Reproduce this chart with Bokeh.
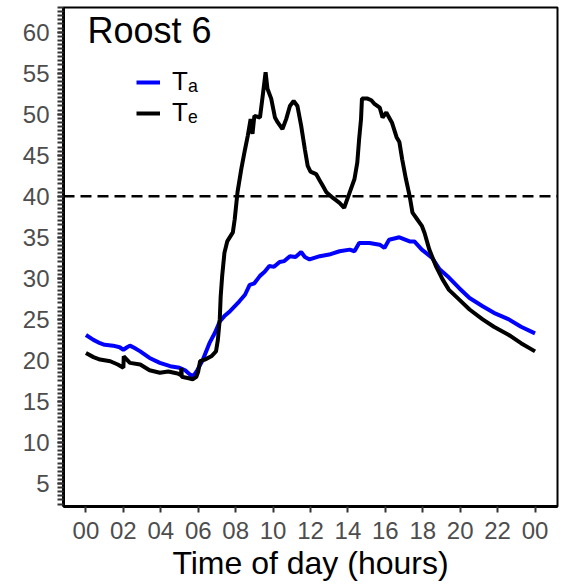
from bokeh.plotting import figure
from bokeh.models import (Span, Legend, LegendItem, Label, FixedTicker,
                          SingleIntervalTicker, Range1d)
from bokeh.embed import file_html
from bokeh.resources import INLINE

# ---- data ----
ta_hours = [0.0, 0.4, 0.75, 1.0, 1.45, 1.8, 2.0, 2.2, 2.35, 2.6, 2.9, 3.4, 3.95,
            4.5, 5.0, 5.3, 5.45, 5.65, 5.8, 5.95, 6.25, 6.6, 6.9, 7.15, 7.4, 7.7,
            8.2, 8.5, 8.75, 9.0, 9.3, 9.55, 9.8, 10.05, 10.35, 10.6, 10.9, 11.2,
            11.5, 11.7, 11.95, 12.2, 12.5, 13.0, 13.55, 14.1, 14.35, 14.6, 15.15,
            15.7, 15.95, 16.2, 16.75, 17.3, 17.55, 17.95, 18.5, 18.9, 19.4, 19.95,
            20.5, 21.2, 21.8, 22.6, 23.25, 24.0]
ta_values = [23.1, 22.5, 22.1, 21.9, 21.8, 21.6, 21.3, 21.6, 21.8, 21.5, 21.1, 20.3,
             19.7, 19.3, 19.1, 18.8, 18.5, 18.1, 18.3, 18.8, 20.1, 22.1, 23.4, 24.75,
             25.4, 26.0, 27.2, 28.0, 29.2, 29.4, 30.3, 30.8, 31.5, 31.4, 32.0, 32.1,
             32.7, 32.6, 33.2, 32.6, 32.3, 32.5, 32.7, 32.9, 33.3, 33.5, 33.3, 34.3,
             34.3, 34.1, 33.7, 34.7, 35.0, 34.5, 34.5, 33.5, 32.5, 31.1, 30.1, 28.8,
             27.6, 26.6, 25.8, 25.0, 24.1, 23.3]

te_hours = [0.0, 0.4, 0.75, 1.3, 1.7, 2.0, 2.02, 2.35, 2.9, 3.4, 3.95, 4.4, 4.9,
            5.08, 5.1, 5.12, 5.55, 5.7, 5.9, 6.0, 6.1, 6.35, 6.7, 6.95, 7.05, 7.15,
            7.2, 7.28, 7.4, 7.55, 7.85, 7.95, 8.1, 8.3, 8.5, 8.65, 8.8, 8.9, 9.0,
            9.3, 9.45, 9.6, 9.7, 9.9, 10.1, 10.25, 10.5, 10.7, 10.9, 11.1, 11.3,
            11.5, 11.7, 11.85, 12.0, 12.3, 12.5, 12.65, 12.85, 13.2, 13.55, 13.8,
            14.1, 14.35, 14.5, 14.6, 14.7, 14.75, 15.05, 15.25, 15.4, 15.7, 15.85,
            16.05, 16.35, 16.6, 16.75, 16.9, 17.1, 17.3, 17.45, 17.7, 17.95, 18.1,
            18.35, 18.7, 19.05, 19.4, 19.95, 20.5, 21.2, 21.8, 22.6, 23.25, 24.0]
te_values = [20.9, 20.4, 20.1, 19.9, 19.5, 19.1, 20.5, 19.7, 19.5, 18.8, 18.5, 18.65,
             18.4, 18.2, 19.1, 18.0, 17.8, 17.7, 18.0, 18.65, 19.9, 20.1, 20.5, 21.1,
             22.5, 25.0, 27.8, 30.3, 33.1, 34.5, 35.6, 37.2, 40.5, 43.3, 45.7, 47.4,
             49.4, 47.6, 49.8, 49.6, 52.3, 55.1, 53.1, 51.9, 49.6, 49.0, 48.2, 49.4,
             51.0, 51.6, 51.0, 48.6, 45.7, 43.7, 43.0, 42.7, 41.9, 41.3, 40.5, 39.8,
             39.2, 38.6, 40.5, 42.1, 44.1, 47.0, 49.4, 51.9, 51.9, 51.7, 51.3, 50.8,
             49.6, 50.2, 49.0, 47.2, 46.6, 44.5, 42.1, 40.0, 38.0, 37.2, 36.4, 35.5,
             33.5, 31.5, 29.9, 28.6, 27.4, 26.2, 25.0, 24.1, 23.1, 22.1, 21.1]

threshold = 40
x_ticks = [0, 2, 4, 6, 8, 10, 12, 14, 16, 18, 20, 22, 24]
x_tick_labels = ["00", "02", "04", "06", "08", "10", "12", "14", "16", "18",
                 "20", "22", "00"]
title_text = "Roost 6"
x_title = "Time of day (hours)"
series_labels = ["T\u2090", "T\u2091"]

FONT = "Liberation Sans"

p = figure(width=567, height=585, output_backend="svg", toolbar_location=None,
           x_range=Range1d(-1.2, 25.2), y_range=Range1d(2.2, 63.0),
           min_border_left=63, min_border_right=10, min_border_top=7,
           min_border_bottom=79)
p.background_fill_color = "white"
p.border_fill_color = "white"
p.xgrid.visible = False
p.ygrid.visible = False
p.outline_line_color = "black"
p.outline_line_width = 2

# x axis
p.xaxis.ticker = FixedTicker(ticks=x_ticks)
p.xaxis.major_label_overrides = {t: l for t, l in zip(x_ticks, x_tick_labels)}
p.xaxis.axis_label = x_title
p.xaxis.axis_label_text_font = FONT
p.xaxis.axis_label_text_font_size = "32px"
p.xaxis.axis_label_text_font_style = "normal"
p.xaxis.axis_label_text_color = "black"
p.xaxis.axis_label_standoff = 3
p.xaxis.minor_tick_line_color = None

# y axis
p.yaxis.ticker = SingleIntervalTicker(interval=5, num_minor_ticks=10)
p.yaxis.minor_tick_out = 6
p.yaxis.minor_tick_in = 0
p.yaxis.minor_tick_line_width = 2
p.yaxis.minor_tick_line_color = "#333333"

for ax in (p.xaxis, p.yaxis):
    ax.axis_line_color = "black"
    ax.axis_line_width = 3
    ax.major_tick_out = 6
    ax.major_tick_in = 0
    ax.major_tick_line_width = 2
    ax.major_tick_line_color = "#333333"
    ax.major_label_text_font = FONT
    ax.major_label_text_font_size = "24px"
    ax.major_label_text_color = "#4D4D4D"
p.xaxis.major_label_standoff = 9
p.yaxis.major_label_standoff = 8

p.add_layout(Span(location=threshold, dimension="width", line_color="black",
                  line_width=2.5, line_dash="11 6"))

r_ta = p.line(ta_hours, ta_values, line_color="#0000FF", line_width=4)
r_te = p.line(te_hours, te_values, line_color="black", line_width=4)

legend = Legend(items=[LegendItem(label=series_labels[0], renderers=[r_ta]),
                       LegendItem(label=series_labels[1], renderers=[r_te])],
                location=(73, 378), padding=0, margin=0, spacing=-2,
                glyph_width=24, glyph_height=28, label_height=28,
                label_standoff=12, border_line_alpha=0,
                background_fill_alpha=0,
                label_text_font=FONT, label_text_font_size="26px",
                label_text_color="black")
p.add_layout(legend)

p.add_layout(Label(x=24, y=476, x_units="screen", y_units="screen",
                   text=title_text, text_font=FONT, text_font_size="36px",
                   text_baseline="alphabetic", text_color="black"))

open("out.html", "w").write(file_html(p, INLINE))
